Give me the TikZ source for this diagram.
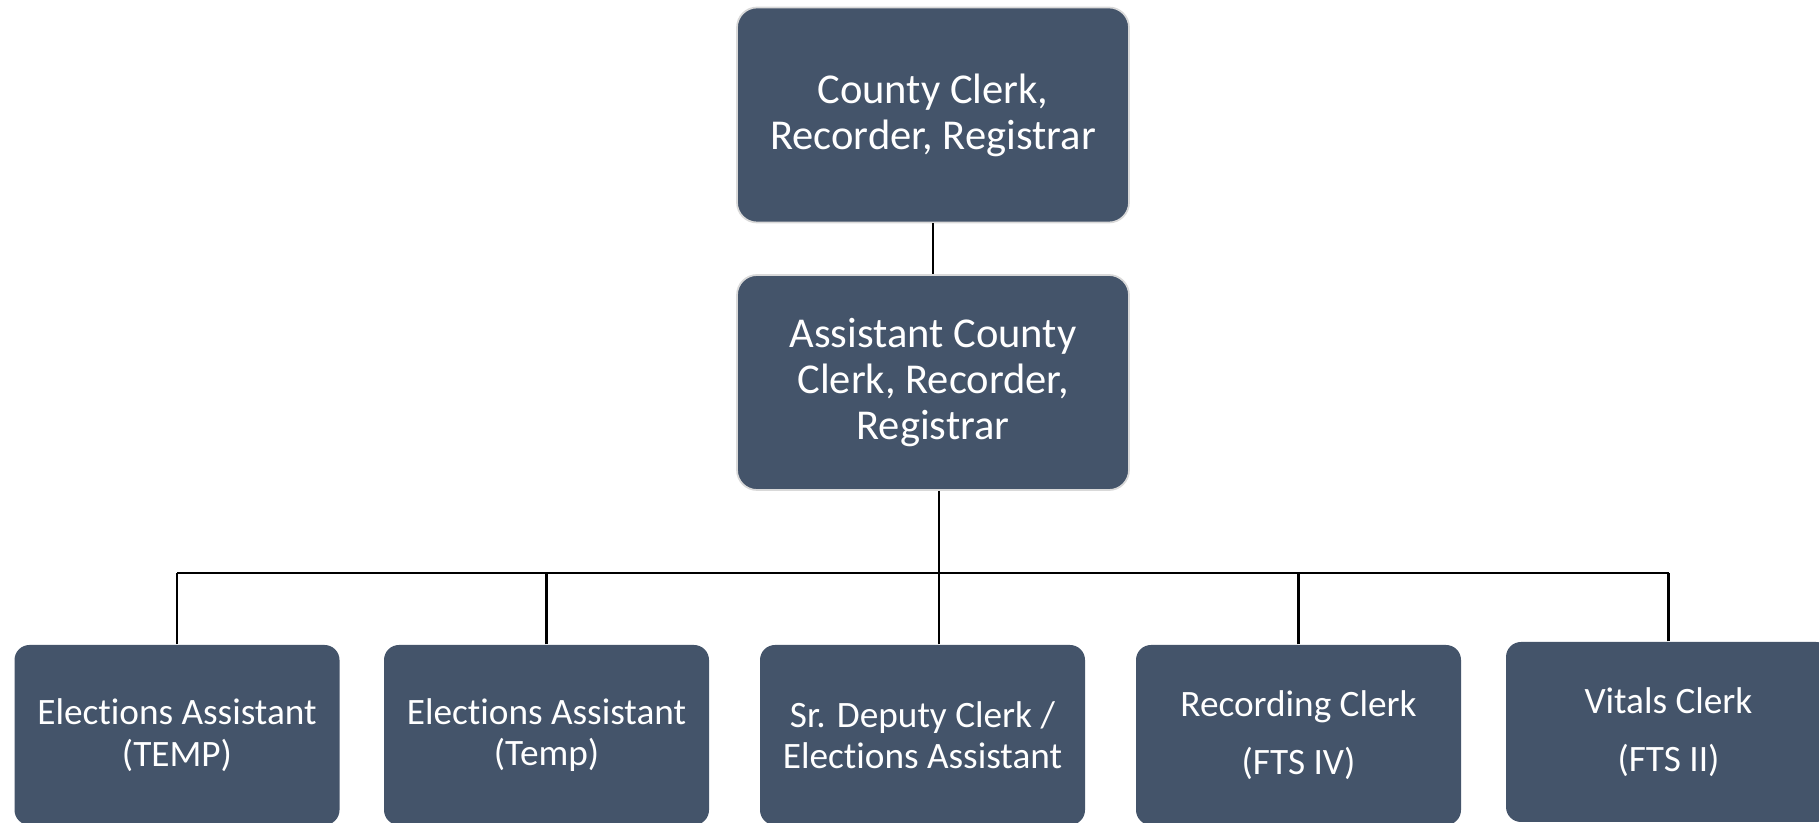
\documentclass[tikz,border=0pt]{standalone}
\usepackage{fontspec}
\setmainfont[Ligatures=NoCommon]{Carlito}
\usepackage{tikz}
\usetikzlibrary{positioning}
\definecolor{boxblue}{HTML}{44546A}
\definecolor{boxedge}{HTML}{D9D9D9}
\tikzstyle{headbox} = [rectangle,rounded corners=2mm,fill=boxblue,draw=boxedge,line width=0.5pt,text=white,align=center,minimum width=3.92cm,minimum height=2.15cm,font=\fontsize{12.1}{13.1}\selectfont]
\tikzstyle{staffbox} = [rectangle,rounded corners=1.5mm,fill=boxblue,text=white,align=center,minimum width=3.25cm,minimum height=1.8cm,font=\fontsize{10.6}{11.8}\selectfont]
\tikzstyle{link} = [line width=0.6pt,black]

\begin{document}
\begin{tikzpicture}
            % page
            \clip (0,0) rectangle (18.19,8.23);
            \fill[white] (0,0) rectangle (18.19,8.23);
            % heads
            \node[headbox] (clerk) at (9.33,7.08) {County Clerk,\\Recorder, Registrar};
            \node[headbox] (asst) at (9.33,4.405) {Assistant County\\Clerk, Recorder,\\Registrar};
            % staff
            \node[staffbox] (elecA) at (1.77,0.88) {Elections Assistant\\(TEMP)};
            \node[staffbox] (elecB) at (5.465,0.88) {Elections Assistant\\(Temp)};
            \node[staffbox] (deputy) at (9.225,0.88) {Sr. Deputy Clerk /\\Elections Assistant};
            \node[staffbox] (rec) at (12.985,0.88) {Recording Clerk\\[4.8pt](FTS IV)};
            \node[staffbox] (vital) at (16.685,0.91) {Vitals Clerk\\[4.8pt](FTS II)};
            % lines
            \coordinate (bus) at (0,2.50);
            \draw [link] (clerk) -- (asst);
            \draw [link] ([xshift=0.06cm]asst.south) -- ([xshift=0.06cm]asst.south |- bus);
            \draw [link] (elecA.north |- bus) -- (vital.north |- bus);
            \draw [link] (elecA.north) -- (elecA.north |- bus);
            \draw [link] (elecB.north) -- (elecB.north |- bus);
            \draw [link] ([xshift=0.165cm]deputy.north) -- ([xshift=0.165cm]deputy.north |- bus);
            \draw [link] (rec.north) -- (rec.north |- bus);
            \draw [link] (vital.north) -- (vital.north |- bus);
\end{tikzpicture}
\end{document}
